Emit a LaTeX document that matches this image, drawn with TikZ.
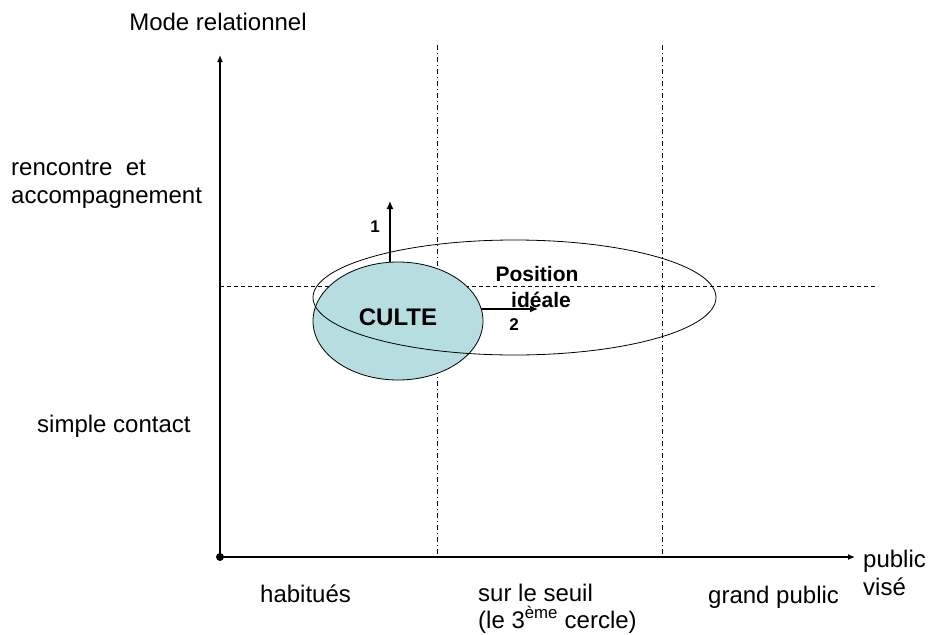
\documentclass[tikz,border=0pt]{standalone}
\usepackage{fontspec}
\setmainfont{Liberation Sans}
\usetikzlibrary{arrows.meta,shapes.geometric}
\definecolor{cultefill}{HTML}{B6DEE1}
\tikzset{
  lbl/.style={inner sep=0pt, font=\fontsize{24}{28}\selectfont},
  blbl/.style={inner sep=0pt, font=\fontsize{21}{26}\selectfont\bfseries},
  nlbl/.style={inner sep=0pt, font=\fontsize{17}{20}\selectfont\bfseries},
  axis/.style={line width=1.3pt, -{Latex[length=7pt,width=6pt]}},
  guide/.style={line width=0.6pt, dash pattern=on 5pt off 3pt on 1pt off 3pt},
  hguide/.style={line width=0.6pt, dash pattern=on 4pt off 3pt},
  arr/.style={line width=1.3pt, -{Latex[length=8pt,width=7pt]}},
}
\begin{document}
\begin{tikzpicture}[x=1pt,y=-1pt]
\useasboundingbox (0,0) rectangle (930,635);
% guides
\coordinate (v1t) at (437,45);
\coordinate (v1b) at (437,557);
\coordinate (v2t) at (662,45);
\coordinate (v2b) at (662,557);
\coordinate (hl) at (220,286);
\coordinate (hr) at (876,286);
\draw[guide] (v1t) -- (v1b);
\draw[guide] (v2t) -- (v2b);
\draw[hguide] (hl) -- (hr);
% axes
\node[circle, fill=black, inner sep=0pt, minimum size=8pt] (o) at (220,557) {};
\coordinate (ytip) at (220,55);
\coordinate (xtip) at (855,557);
\draw[axis] (o.center) -- (ytip);
\draw[axis] (o.center) -- (xtip);
% ellipses
\node[ellipse, draw=black, line width=0.8pt, fill=cultefill, inner sep=0pt,
      minimum width=170pt, minimum height=118pt] (culte) at (398,321) {};
\node[blbl, font=\fontsize{24}{28}\selectfont\bfseries] (cultelbl) at (398,317) {CULTE};
\node[ellipse, draw=black, line width=0.8pt, inner sep=0pt,
      minimum width=403pt, minimum height=115pt] (ideal) at (514.5,297.5) {};
% arrows
\coordinate (a1) at (390,201);
\coordinate (a2) at (538,309);
\draw[arr] (culte.north -| a1) -- (a1);
\draw[arr] (culte.east |- a2) ++(-2,0) -- (a2);
\node[nlbl] (n1) at (375,227) {1};
\node[nlbl] (n2) at (514,325) {2};
\node[blbl, anchor=base] (pos1) at (537,281) {Position};
\node[blbl, anchor=base] (pos2) at (541,307) {idéale};
% labels
\node[lbl, anchor=base] (mode) at (218,30) {Mode relationnel};
\node[lbl, anchor=base west] (renc1) at (11,175) {rencontre\ \ et};
\node[lbl, anchor=base west] (renc2) at (11,203) {accompagnement};
\node[lbl, anchor=base west] (simple) at (37,432) {simple contact};
\node[lbl, anchor=base west] (hab) at (260,602) {habitués};
\node[lbl, anchor=base west] (seuil1) at (478,601) {sur le seuil};
\node[lbl, anchor=base west] (seuil2) at (478,628) {(le 3\textsuperscript{ème} cercle)};
\node[lbl, anchor=base west] (grand) at (708,603) {grand public};
\node[lbl, anchor=base west] (pub1) at (863,567) {public};
\node[lbl, anchor=base west] (pub2) at (863,595) {visé};
\end{tikzpicture}
\end{document}
